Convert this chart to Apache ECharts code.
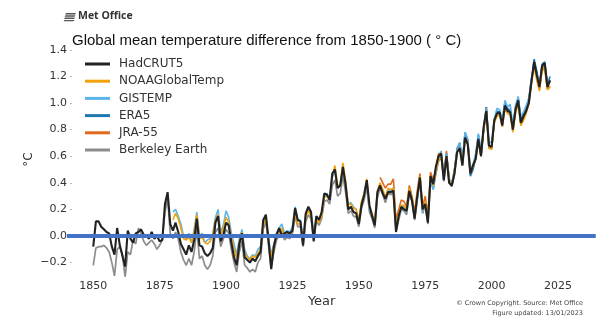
<!DOCTYPE html>
<html>
<head>
<meta charset="utf-8">
<script src="https://cdn.jsdelivr.net/npm/echarts@6/dist/echarts.min.js"></script>
<style>
html,body{margin:0;padding:0;background:#fff;}
#chart{width:602px;height:324px;}
</style>
</head>
<body>
<div id="chart"></div>
<script>
// ---- Data (anomaly vs 1850-1900, °C) ----
const hadcrutStart = 1850;
const hadcrut5 = [
 -0.08, 0.11, 0.11, 0.07, 0.05, 0.03, 0.02, -0.08, -0.14, 0.06,
 -0.07, -0.15, -0.23, 0.04, -0.02, -0.05, 0.02, 0.03, 0.05, 0.01,
 0.00, -0.02, 0.03, -0.02, 0.00, -0.04, -0.03, 0.24, 0.33, 0.09,
 0.04, 0.10, 0.03, -0.06, -0.10, -0.14, -0.07, -0.12, -0.03, 0.13,
 -0.07, -0.08, -0.13, -0.15, -0.13, -0.09, 0.10, 0.15, -0.04, 0.01,
 0.10, 0.08, -0.05, -0.16, -0.22, -0.06, 0.02, -0.16, -0.18, -0.20,
 -0.17, -0.19, -0.15, -0.12, 0.12, 0.16, -0.03, -0.25, -0.08, 0.01,
 0.06, 0.00, 0.02, 0.03, 0.02, 0.04, 0.21, 0.12, 0.11, -0.07,
 0.17, 0.22, 0.18, -0.04, 0.15, 0.12, 0.18, 0.32, 0.31, 0.27,
 0.47, 0.50, 0.36, 0.38, 0.52, 0.39, 0.20, 0.22, 0.18, 0.17,
 0.09, 0.23, 0.31, 0.42, 0.23, 0.15, 0.08, 0.33, 0.38, 0.32,
 0.28, 0.33, 0.33, 0.34, 0.03, 0.15, 0.22, 0.20, 0.19, 0.34,
 0.27, 0.13, 0.30, 0.44, 0.20, 0.24, 0.10, 0.45, 0.39, 0.52,
 0.60, 0.62, 0.42, 0.60, 0.40, 0.38, 0.47, 0.63, 0.66, 0.53,
 0.74, 0.69, 0.47, 0.53, 0.58, 0.73, 0.60, 0.82, 0.94, 0.68,
 0.67, 0.87, 0.92, 0.93, 0.83, 0.98, 0.94, 0.93, 0.80, 0.95,
 1.02, 0.85, 0.90, 0.94, 1.00, 1.16, 1.31, 1.21, 1.12, 1.28,
 1.30, 1.12, 1.17
];
const noaaStart = 1880;
const noaa = [
 0.12, 0.17, 0.13, 0.06, -0.02, -0.03, -0.01, -0.05, 0.03, 0.16,
 -0.02, -0.01, -0.05, -0.06, -0.04, 0.00, 0.12, 0.16, 0.00, 0.06,
 0.14, 0.10, -0.01, -0.10, -0.17, -0.05, 0.03, -0.13, -0.16, -0.18,
 -0.15, -0.16, -0.13, -0.10, 0.08, 0.14, -0.04, -0.16, -0.07, 0.00,
 0.03, 0.06, 0.00, 0.02, 0.00, 0.04, 0.17, 0.09, 0.09, -0.05,
 0.14, 0.19, 0.15, 0.00, 0.13, 0.10, 0.15, 0.29, 0.30, 0.28,
 0.45, 0.53, 0.37, 0.39, 0.55, 0.42, 0.24, 0.24, 0.21, 0.20,
 0.12, 0.26, 0.32, 0.43, 0.22, 0.17, 0.10, 0.34, 0.40, 0.35,
 0.29, 0.36, 0.35, 0.36, 0.07, 0.16, 0.23, 0.23, 0.20, 0.36,
 0.29, 0.16, 0.30, 0.45, 0.20, 0.26, 0.13, 0.45, 0.38, 0.48,
 0.57, 0.60, 0.44, 0.60, 0.42, 0.39, 0.48, 0.63, 0.66, 0.55,
 0.73, 0.70, 0.47, 0.52, 0.58, 0.71, 0.60, 0.81, 0.93, 0.66,
 0.65, 0.85, 0.90, 0.91, 0.82, 0.96, 0.92, 0.91, 0.78, 0.92,
 0.99, 0.83, 0.87, 0.92, 0.99, 1.15, 1.27, 1.17, 1.09, 1.24,
 1.26, 1.10, 1.13
];
const gistempStart = 1880;
const gistemp = [
 0.18, 0.20, 0.15, 0.09, 0.00, -0.02, 0.02, -0.05, 0.05, 0.18,
 0.00, 0.02, -0.05, -0.03, -0.02, 0.02, 0.14, 0.20, 0.03, 0.08,
 0.19, 0.14, 0.02, -0.06, -0.14, -0.02, 0.05, -0.10, -0.15, -0.17,
 -0.14, -0.15, -0.10, -0.08, 0.10, 0.15, -0.02, -0.14, -0.06, 0.02,
 0.06, 0.09, 0.02, 0.04, 0.03, 0.07, 0.22, 0.12, 0.12, -0.02,
 0.16, 0.20, 0.17, 0.03, 0.15, 0.12, 0.16, 0.30, 0.32, 0.28,
 0.44, 0.49, 0.36, 0.38, 0.50, 0.38, 0.24, 0.25, 0.22, 0.20,
 0.12, 0.25, 0.30, 0.40, 0.20, 0.16, 0.10, 0.32, 0.38, 0.34,
 0.28, 0.35, 0.34, 0.36, 0.06, 0.14, 0.21, 0.22, 0.18, 0.34,
 0.28, 0.15, 0.28, 0.44, 0.18, 0.25, 0.12, 0.43, 0.35, 0.47,
 0.58, 0.64, 0.45, 0.62, 0.43, 0.40, 0.50, 0.65, 0.70, 0.58,
 0.78, 0.73, 0.50, 0.54, 0.62, 0.77, 0.65, 0.81, 0.96, 0.71,
 0.70, 0.88, 0.96, 0.95, 0.87, 1.02, 0.97, 0.99, 0.83, 0.98,
 1.05, 0.90, 0.93, 0.98, 1.04, 1.19, 1.30, 1.21, 1.13, 1.27,
 1.30, 1.13, 1.17
];
const era5Start = 1979;
const era5 = [
 0.47,
 0.60, 0.61, 0.45, 0.62, 0.42, 0.38, 0.48, 0.66, 0.70, 0.55,
 0.78, 0.72, 0.45, 0.50, 0.60, 0.76, 0.63, 0.80, 0.97, 0.66,
 0.66, 0.87, 0.94, 0.93, 0.85, 1.00, 0.96, 0.94, 0.82, 0.97,
 1.04, 0.87, 0.92, 0.96, 1.02, 1.17, 1.33, 1.24, 1.13, 1.29,
 1.31, 1.14, 1.20
];
const jra55Start = 1958;
const jra55 = [
 0.44, 0.40,
 0.36, 0.39, 0.39, 0.43, 0.12, 0.20, 0.27, 0.26, 0.22, 0.38,
 0.30, 0.18, 0.34, 0.47, 0.22, 0.30, 0.15, 0.48, 0.42, 0.50,
 0.62, 0.62, 0.45, 0.64, 0.42, 0.38, 0.50, 0.64, 0.70, 0.56,
 0.76, 0.72, 0.48, 0.52, 0.60, 0.74, 0.60, 0.80, 0.97, 0.68,
 0.66, 0.87, 0.93, 0.93, 0.85, 1.00, 0.95, 0.95, 0.80, 0.96,
 1.03, 0.85, 0.90, 0.96, 1.01, 1.17, 1.30, 1.20, 1.10, 1.26,
 1.27, 1.10, 1.12
];
const berkeleyStart = 1850;
const berkeley = [
 -0.22, -0.09, -0.08, -0.08, -0.07, -0.09, -0.12, -0.20, -0.30, -0.10,
 -0.08, -0.14, -0.31, -0.12, -0.14, -0.03, -0.06, 0.06, 0.02, -0.04,
 -0.07, -0.05, -0.03, -0.06, -0.10, -0.07, -0.03, 0.18, 0.28, 0.02,
 -0.02, 0.03, -0.02, -0.12, -0.18, -0.22, -0.17, -0.22, -0.12, 0.05,
 -0.17, -0.15, -0.22, -0.25, -0.22, -0.15, 0.03, 0.06, -0.08, -0.02,
 0.05, 0.02, -0.10, -0.20, -0.27, -0.12, -0.04, -0.22, -0.24, -0.27,
 -0.25, -0.27, -0.20, -0.17, 0.05, 0.11, -0.07, -0.24, -0.12, -0.03,
 0.00, 0.04, -0.03, -0.01, -0.02, 0.02, 0.15, 0.07, 0.07, -0.08,
 0.11, 0.16, 0.13, -0.02, 0.11, 0.08, 0.13, 0.26, 0.27, 0.24,
 0.38, 0.42, 0.30, 0.32, 0.45, 0.33, 0.17, 0.19, 0.15, 0.14,
 0.07, 0.21, 0.27, 0.37, 0.18, 0.13, 0.06, 0.29, 0.36, 0.31,
 0.25, 0.32, 0.31, 0.33, 0.04, 0.12, 0.20, 0.19, 0.16, 0.32,
 0.26, 0.12, 0.27, 0.42, 0.17, 0.23, 0.09, 0.42, 0.35, 0.47,
 0.56, 0.60, 0.41, 0.60, 0.40, 0.37, 0.46, 0.63, 0.66, 0.53,
 0.74, 0.69, 0.46, 0.51, 0.58, 0.73, 0.60, 0.80, 0.94, 0.67,
 0.66, 0.86, 0.92, 0.92, 0.83, 0.98, 0.94, 0.94, 0.80, 0.95,
 1.02, 0.85, 0.90, 0.95, 1.01, 1.16, 1.30, 1.20, 1.12, 1.27,
 1.29, 1.13, 1.16
];
const xTicks = [1850, 1875, 1900, 1925, 1950, 1975, 2000, 2025];
const yTicks = [-0.2, 0.0, 0.2, 0.4, 0.6, 0.8, 1.0, 1.2, 1.4];
const zeroLineYears = [1840.1, 2039.2];
const zeroValue = 0;

function pairs(start, arr) { return arr.map((v, i) => [start + i, v]); }

const chart = echarts.init(document.getElementById('chart'), null, {renderer: 'canvas'});

const lineSeries = (name, color, width, start, arr, z) => ({
  name: name, type: 'line', data: pairs(start, arr), showSymbol: false, symbol: 'none',
  color: color, lineStyle: {color: color, width: width}, z: z, animation: false
});

const option = {
  animation: false,
  backgroundColor: '#fff',
  title: {
    text: 'Global mean temperature difference from 1850-1900 ( \u00b0 C)',
    left: 67, top: 28,
    textStyle: {fontFamily: 'Liberation Sans, Arial, sans-serif', fontSize: 15, fontWeight: 'normal', color: '#111'}
  },
  legend: {
    orient: 'vertical', left: 80, top: 53,
    icon: 'rect', itemWidth: 25, itemHeight: 3, itemGap: 5.2,
    textStyle: {fontFamily: 'DejaVu Sans', fontSize: 12, color: '#333', padding: [0, 0, 0, 4]},
    data: ['HadCRUT5', 'NOAAGlobalTemp', 'GISTEMP', 'ERA5', 'JRA-55', 'Berkeley Earth']
  },
  grid: {left: 72, top: 43.15, width: 499.3, height: 232.75, containLabel: false},
  xAxis: {
    type: 'value', min: 1842, max: 2030,
    name: 'Year', nameLocation: 'middle', nameGap: 19, nameMoveOverlap: false,
    nameTextStyle: {fontFamily: 'DejaVu Sans', fontSize: 13, color: '#333'},
    axisLine: {show: false},
    axisTick: {show: true, length: 2, inside: false, customValues: xTicks, lineStyle: {color: '#bbb', width: 1}},
    axisLabel: {customValues: xTicks, margin: 5, fontFamily: 'DejaVu Sans', fontSize: 11, color: '#333',
      formatter: v => String(Math.round(v))},
    splitLine: {show: false}
  },
  yAxis: {
    type: 'value', min: -0.3, max: 1.45,
    name: '\u00b0C', nameLocation: 'middle', nameRotate: 90, nameGap: 37, nameMoveOverlap: false,
    nameTextStyle: {fontFamily: 'DejaVu Sans', fontSize: 12, color: '#333'},
    axisLine: {show: false},
    axisTick: {show: true, length: 2, inside: false, customValues: yTicks, lineStyle: {color: '#bbb', width: 1}},
    axisLabel: {
      customValues: yTicks, margin: 5, fontFamily: 'DejaVu Sans', fontSize: 11, color: '#333',
      formatter: v => (v < 0 ? '\u2212' : '') + Math.abs(v).toFixed(1)
    },
    splitLine: {show: false}
  },
  graphic: [
    {type: 'polygon', shape: {points: [[66,13],[76,13],[75,14.4],[65,14.4]]}, style: {fill: '#555'}},
    {type: 'polygon', shape: {points: [[65.5,15.3],[75.5,15.3],[74.5,16.7],[64.5,16.7]]}, style: {fill: '#555'}},
    {type: 'polygon', shape: {points: [[65,17.6],[75,17.6],[74,19],[64,19]]}, style: {fill: '#555'}},
    {type: 'polygon', shape: {points: [[64.5,19.9],[74.5,19.9],[73.5,21.3],[63.5,21.3]]}, style: {fill: '#555'}},
    {type: 'text', left: 78, top: 11, style: {text: 'Met Office', font: 'bold 10.5px "Open Sans", "DejaVu Sans", sans-serif', fill: '#333'}},
    {type: 'text', right: 19, top: 300, style: {text: '\u00a9 Crown Copyright. Source: Met Office', font: '6.5px "DejaVu Sans", sans-serif', fill: '#444', align: 'right'}},
    {type: 'text', right: 19, top: 309.5, style: {text: 'Figure updated: 13/01/2023', font: '6.5px "DejaVu Sans", sans-serif', fill: '#444', align: 'right'}}
  ],
  series: [
    lineSeries('Berkeley Earth', '#8c8c8c', 1.7, berkeleyStart, berkeley, 2),
    lineSeries('JRA-55', '#e06a1b', 1.6, jra55Start, jra55, 3),
    lineSeries('ERA5', '#1f78b4', 1.6, era5Start, era5, 4),
    lineSeries('GISTEMP', '#5bb5e8', 1.6, gistempStart, gistemp, 5),
    lineSeries('NOAAGlobalTemp', '#f2a20c', 1.6, noaaStart, noaa, 6),
    lineSeries('HadCRUT5', '#222222', 2.1, hadcrutStart, hadcrut5, 7)
  ]
};
chart.setOption(option);

// Zero reference line, positioned through the chart's own scales
const p1 = chart.convertToPixel({gridIndex: 0}, [zeroLineYears[0], zeroValue]);
const p2 = chart.convertToPixel({gridIndex: 0}, [zeroLineYears[1], zeroValue]);
chart.setOption({
  graphic: option.graphic.concat([{
    type: 'line', z: 100, silent: true,
    shape: {x1: p1[0], y1: p1[1], x2: p2[0], y2: p2[1]},
    style: {stroke: '#4472c4', lineWidth: 4}
  }])
});
</script>
</body>
</html>
